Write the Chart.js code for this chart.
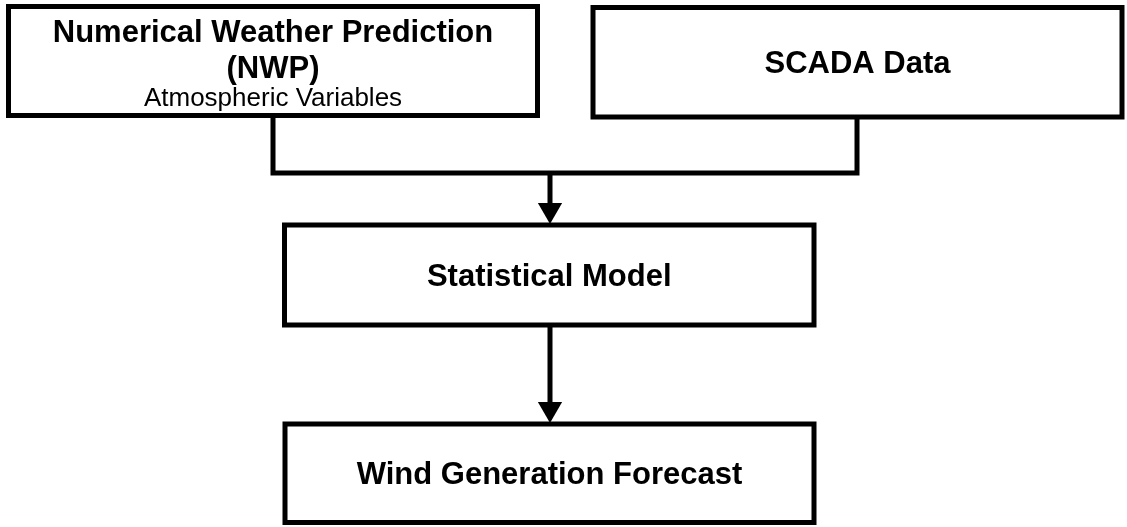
<!DOCTYPE html>
<html>
<head>
<meta charset="utf-8">
<script src="https://cdn.jsdelivr.net/npm/chart.js@4"></script>
<style>
  html, body { margin: 0; padding: 0; background: #ffffff; }
  canvas { display: block; }
</style>
</head>
<body>
<canvas id="chart" width="1127" height="527"></canvas>
<script>
// box texts
const boxTitles = [
  ['Numerical Weather Prediction', '(NWP)'],
  ['SCADA Data'],
  ['Statistical Model'],
  ['Wind Generation Forecast'],
];
const boxSubtitles = ['Atmospheric Variables', '', '', ''];

// box edges (diagram units = pixels of the picture)
const boxLeft = [8.5, 593, 284.5, 285];
const boxRight = [537.5, 1122, 814, 814];
const boxTop = [6.5, 7.5, 225, 424];
const boxBottom = [115.5, 117, 325, 522.5];

// connectors
const mergeX = [273, 273, 857, 857];
const mergeY = [115.5, 173, 173, 117];
const arrowX = [550, 550];
const arrowFromY = [173, 325];
const arrowToY = [225, 424];

const headRadius = 14; // triangle point size

const boxDatasets = boxLeft.map((l, i) => ({
  data: [
    { x: l, y: boxTop[i] },
    { x: boxRight[i], y: boxTop[i] },
    { x: boxRight[i], y: boxBottom[i] },
    { x: l, y: boxBottom[i] },
    { x: l, y: boxTop[i] },
  ],
  showLine: true,
  borderColor: '#000000',
  borderWidth: 5,
  borderCapStyle: 'square',
  borderJoinStyle: 'miter',
  pointRadius: 0,
}));

const mergeDataset = {
  data: mergeX.map((x, i) => ({ x: x, y: mergeY[i] })),
  showLine: true,
  borderColor: '#000000',
  borderWidth: 5,
  borderCapStyle: 'butt',
  borderJoinStyle: 'miter',
  pointRadius: 0,
};

const shaftDatasets = arrowX.map((x, i) => ({
  data: [
    { x: x, y: arrowFromY[i] },
    { x: x, y: arrowToY[i] - headRadius },
  ],
  showLine: true,
  borderColor: '#000000',
  borderWidth: 5,
  pointRadius: 0,
}));

// arrow heads: triangle points turned to point down
const headDataset = {
  data: arrowX.map((x, i) => ({ x: x, y: arrowToY[i] - headRadius - 1 })),
  showLine: false,
  pointStyle: 'triangle',
  rotation: 180,
  pointRadius: headRadius,
  pointBackgroundColor: '#000000',
  pointBorderWidth: 0,
  borderColor: '#000000',
};

const titleGap = 36;
const subGap = 30;

const boxText = {
  id: 'boxText',
  afterDatasetsDraw(chart) {
    const ctx = chart.ctx;
    const xs = chart.scales.x;
    const ys = chart.scales.y;
    ctx.save();
    ctx.fillStyle = '#000000';
    ctx.textAlign = 'center';
    ctx.textBaseline = 'middle';
    boxTitles.forEach((lines, i) => {
      const cx = xs.getPixelForValue((boxLeft[i] + boxRight[i]) / 2);
      const cy = ys.getPixelForValue((boxTop[i] + boxBottom[i]) / 2);
      const sub = boxSubtitles[i];
      const span = titleGap * (lines.length - 1) + (sub ? subGap : 0);
      // the NWP block sits a little low in its box
      let y = cy - span / 2 + 2 + (sub ? 3 : 0);
      ctx.font = 'bold 31px "Liberation Sans", Arial, sans-serif';
      lines.forEach((t, k) => {
        ctx.fillText(t, cx, y);
        if (k < lines.length - 1) y += titleGap;
      });
      if (sub) {
        y += subGap;
        ctx.font = '26px "Liberation Sans", Arial, sans-serif';
        ctx.fillText(sub, cx, y);
      }
    });
    ctx.restore();
  },
};

new Chart(document.getElementById('chart'), {
  type: 'scatter',
  data: {
    datasets: [...boxDatasets, mergeDataset, ...shaftDatasets, headDataset],
  },
  options: {
    responsive: false,
    animation: false,
    layout: { padding: 0, autoPadding: false },
    plugins: {
      legend: { display: false },
      tooltip: { enabled: false },
    },
    scales: {
      x: { type: 'linear', min: 0, max: 1127, display: false },
      y: { type: 'linear', min: 0, max: 527, reverse: true, display: false },
    },
  },
  plugins: [boxText],
});
</script>
</body>
</html>
